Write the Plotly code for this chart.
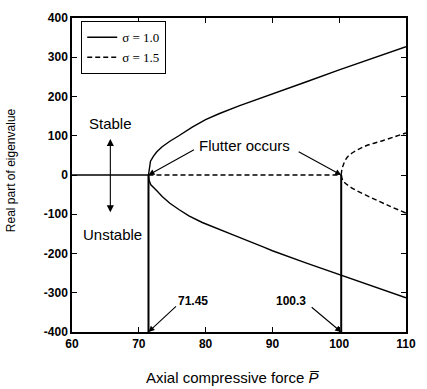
import plotly.graph_objects as go

# Axial compressive force (flutter loads) and real parts of the eigenvalues
p_flutter_1 = 71.45
p_flutter_2 = 100.3

# sigma = 1.0 : stable region (zero real part) then two branches after flutter
p_stable_1 = [60, 71.45]
re_stable_1 = [0, 0]
p_upper_1 = [71.45, 71.55, 71.75, 72.2, 72.7, 73.5, 74.65, 76, 78, 80, 82, 85, 90, 95, 100, 105, 110]
re_upper_1 = [0, 18, 35, 48, 59, 72, 86, 100, 122, 141, 156, 176, 206, 237, 268, 298, 327]
p_lower_1 = [71.45, 71.55, 71.8, 72.2, 72.7, 73.5, 74.65, 76, 77.5, 79.5, 82, 84.3, 88.7, 90, 95, 100, 105, 110]
re_lower_1 = [0, -14, -25, -31, -40, -55, -72, -88, -104, -121, -139, -154, -184, -193, -224, -254, -283, -313]

# sigma = 1.5
p_stable_2 = [71.45, 100.3]
re_stable_2 = [0, 0]
p_upper_2 = [100.3, 100.5, 101.3, 103.7, 106.6, 110]
re_upper_2 = [0, 20, 47, 72, 88, 107]
p_lower_2 = [100.3, 100.6, 101.8, 104.7, 107.4, 110]
re_lower_2 = [0, -15, -32, -57, -78, -97]

x_ticks = [60, 70, 80, 90, 100, 110]
y_ticks = [-400, -300, -200, -100, 0, 100, 200, 300, 400]
y_tick_text = ["-400", "-300", "-200", "-100", "0", "100", "200", "300", "400"]

sans = "Liberation Sans, Arial, sans-serif"
serif = "Liberation Serif, Times New Roman, serif"

fig = go.Figure()

solid = dict(color="black", width=1.4)
dashed = dict(color="black", width=1.4, dash="5px,3px")

fig.add_trace(go.Scatter(x=p_stable_1, y=re_stable_1, mode="lines", line=solid,
                         name="σ = 1.0", legendgroup="a"))
fig.add_trace(go.Scatter(x=p_upper_1, y=re_upper_1, mode="lines", line=solid,
                         showlegend=False, legendgroup="a"))
fig.add_trace(go.Scatter(x=p_lower_1, y=re_lower_1, mode="lines", line=solid,
                         showlegend=False, legendgroup="a"))

fig.add_trace(go.Scatter(x=p_stable_2, y=re_stable_2, mode="lines", line=dashed,
                         name="σ = 1.5", legendgroup="b"))
fig.add_trace(go.Scatter(x=p_upper_2, y=re_upper_2, mode="lines", line=dashed,
                         showlegend=False, legendgroup="b", line_shape="spline"))
fig.add_trace(go.Scatter(x=p_lower_2, y=re_lower_2, mode="lines", line=dashed,
                         showlegend=False, legendgroup="b", line_shape="spline"))

# vertical markers at the flutter loads
for pf in (p_flutter_1, p_flutter_2):
    fig.add_trace(go.Scatter(x=[pf, pf], y=[0, -400], mode="lines",
                             line=dict(color="black", width=2), showlegend=False))

arrow = dict(showarrow=True, arrowhead=2, arrowsize=1.1, arrowwidth=1.1,
             arrowcolor="black", axref="pixel", ayref="pixel")
big = dict(family=sans, size=15, color="black")
small = dict(family=sans, size=12, color="black", weight="bold")

annotations = [
    # "Flutter occurs" with two arrows
    dict(x=p_flutter_1, y=0, ax=47, ay=-26, text="", **arrow),
    dict(x=p_flutter_2, y=0, ax=-44, ay=-24, text="", **arrow),
    dict(x=85.8, y=75, text="Flutter occurs", showarrow=False, font=big,
         xanchor="center", yanchor="middle"),
    # flutter load labels
    dict(x=p_flutter_1, y=-400, ax=29, ay=-27, text="", **arrow),
    dict(x=78.05, y=-320, text="71.45", showarrow=False, font=small,
         xanchor="center", yanchor="middle"),
    dict(x=p_flutter_2, y=-400, ax=-31, ay=-26, text="", **arrow),
    dict(x=92.8, y=-320, text="100.3", showarrow=False, font=small,
         xanchor="center", yanchor="middle"),
    # stable / unstable indicator
    dict(x=65.7, y=130, text="Stable", showarrow=False, font=big,
         xanchor="center", yanchor="middle"),
    dict(x=66.0, y=-152, text="Unstable", showarrow=False, font=big,
         xanchor="center", yanchor="middle"),
    dict(x=65.74, y=92, ax=65.74, ay=-99, axref="x", ayref="y", text="",
         showarrow=True, arrowhead=2, startarrowhead=2, arrowside="end+start",
         arrowsize=1.3, startarrowsize=1.3, arrowwidth=1.1, arrowcolor="black"),
    # axis titles
    dict(xref="paper", yref="paper", x=-0.182, y=0.516, text="Real part of eigenvalue",
         textangle=-90, showarrow=False, font=dict(family=sans, size=12, color="black"),
         xanchor="center", yanchor="middle"),
    dict(xref="paper", yref="paper", x=0.48, y=-0.144,
         text="Axial compressive force <i>P\u0305</i>", showarrow=False,
         font=dict(family=sans, size=15, color="black"), xanchor="center", yanchor="middle"),
]

axis_common = dict(showline=True, linecolor="black", linewidth=1.5, mirror="ticks",
                   ticks="inside", ticklen=5, tickwidth=1.2, tickcolor="black",
                   showgrid=False, zeroline=False,
                   tickfont=dict(family=sans, size=12, color="black", weight="bold"))

fig.update_layout(
    width=427, height=389,
    margin=dict(l=72, r=11, t=12, b=57),
    paper_bgcolor="white", plot_bgcolor="white",
    showlegend=True,
    legend=dict(x=0.027, y=0.99, xanchor="left", yanchor="top",
                bordercolor="black", borderwidth=1.2, bgcolor="white",
                font=dict(family=serif, size=13, color="black"),
                tracegroupgap=0, itemwidth=30),
    annotations=annotations,
)
fig.update_xaxes(range=[60, 110], tickvals=x_ticks, **axis_common)
fig.update_yaxes(range=[-400, 400], tickvals=y_ticks, ticktext=y_tick_text, **axis_common)

fig.write_html("out.html")
